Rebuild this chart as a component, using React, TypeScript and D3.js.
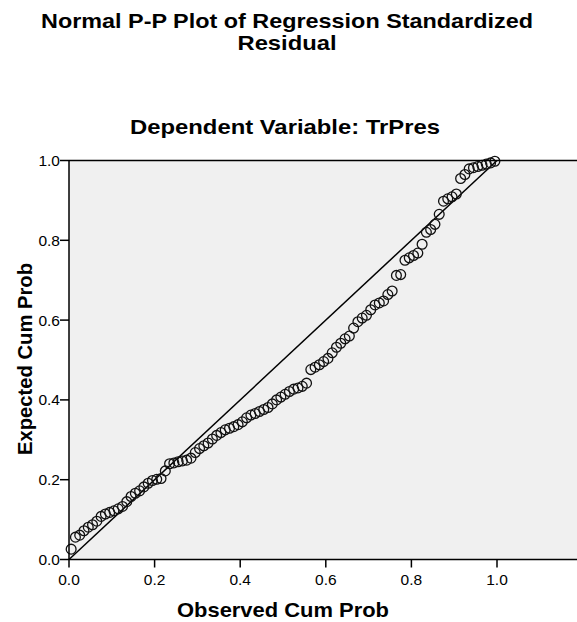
import React from "react";
import * as d3 from "d3";

const titleLines = ["Normal P-P Plot of Regression Standardized", "Residual"];
const titleWidths = [492, 99];
const subtitle = "Dependent Variable: TrPres";
const xLabel = "Observed Cum Prob";
const yLabel = "Expected Cum Prob";
const xTicks = [0, 0.2, 0.4, 0.6, 0.8, 1.0];
const yTicks = [0, 0.2, 0.4, 0.6, 0.8, 1.0];

// Expected cumulative probability for each observation, ordered by rank
const expectedCum = [
  0.026, 0.056, 0.061, 0.072, 0.081, 0.087, 0.096, 0.108, 0.114, 0.118,
  0.122, 0.127, 0.133, 0.145, 0.158, 0.166, 0.172, 0.182, 0.191, 0.198,
  0.201, 0.203, 0.222, 0.240, 0.242, 0.245, 0.247, 0.249, 0.254, 0.268,
  0.278, 0.285, 0.292, 0.302, 0.311, 0.318, 0.325, 0.329, 0.333, 0.338,
  0.345, 0.355, 0.362, 0.366, 0.371, 0.376, 0.381, 0.390, 0.400, 0.407,
  0.414, 0.421, 0.427, 0.430, 0.434, 0.442, 0.476, 0.482, 0.488, 0.496,
  0.504, 0.518, 0.532, 0.542, 0.553, 0.560, 0.580, 0.596, 0.605, 0.612,
  0.626, 0.638, 0.643, 0.648, 0.664, 0.673, 0.712, 0.714, 0.750, 0.756,
  0.762, 0.768, 0.790, 0.820, 0.827, 0.840, 0.865, 0.898, 0.904, 0.909,
  0.916, 0.955, 0.965, 0.979, 0.982, 0.985, 0.988, 0.991, 0.994, 0.998,
];
const n = expectedCum.length;
const observedCum = expectedCum.map((_, i) => (i + 0.5) / n);

const W = 577;
const H = 622;
const left = 69;
const top = 160.5;
const bottom = 559.5;
const unitX = 428;
const font = "'Liberation Sans', Arial, Helvetica, sans-serif";

export default function App() {
  const x = d3.scaleLinear().domain([0, 1]).range([left, left + unitX]);
  const y = d3.scaleLinear().domain([0, 1]).range([bottom, top]);
  const xMax = x.invert(W + 5);

  return (
    <svg
      width={W}
      height={H}
      style={{ position: "absolute", left: 0, top: 0, background: "#fff" }}
      fontFamily={font}
    >
      <rect x={left} y={top} width={x(xMax) - left} height={bottom - top} fill="#f0f0f0" />
      {titleLines.map((t, i) => (
        <text
          key={i}
          x={287}
          y={28 + i * 22}
          textAnchor="middle"
          fontSize={21}
          fontWeight="bold"
          fill="#000"
          textLength={titleWidths[i]}
          lengthAdjust="spacingAndGlyphs"
        >
          {t}
        </text>
      ))}
      <text
        x={285}
        y={134}
        textAnchor="middle"
        fontSize={21}
        fontWeight="bold"
        fill="#000"
        textLength={310}
        lengthAdjust="spacingAndGlyphs"
      >
        {subtitle}
      </text>
      {/* diagonal reference line */}
      <line x1={x(0)} y1={y(0)} x2={x(1)} y2={y(1)} stroke="#000" strokeWidth={1.5} />
      {/* points */}
      {expectedCum.map((v, i) => (
        <circle
          key={i}
          cx={x(observedCum[i])}
          cy={y(v)}
          r={4.9}
          fill="none"
          stroke="#111"
          strokeWidth={1.3}
        />
      ))}
      {/* frame */}
      <line x1={left} y1={top} x2={W + 5} y2={top} stroke="#000" strokeWidth={1.5} />
      <line x1={left} y1={bottom} x2={W + 5} y2={bottom} stroke="#000" strokeWidth={1.5} />
      <line x1={left} y1={top} x2={left} y2={bottom} stroke="#000" strokeWidth={1.5} />
      {/* x ticks */}
      {xTicks.map((t) => (
        <g key={"x" + t}>
          <line x1={x(t)} y1={bottom} x2={x(t)} y2={bottom + 8} stroke="#000" strokeWidth={1.5} />
          <text x={x(t)} y={585} textAnchor="middle" fontSize={15.5} fill="#000">
            {d3.format(".1f")(t)}
          </text>
        </g>
      ))}
      {/* y ticks */}
      {yTicks.map((t) => (
        <g key={"y" + t}>
          <line x1={left - 9} y1={y(t)} x2={left} y2={y(t)} stroke="#000" strokeWidth={1.5} />
          <text x={left - 9} y={y(t) + 5.5} textAnchor="end" fontSize={15.5} fill="#000">
            {d3.format(".1f")(t)}
          </text>
        </g>
      ))}
      <text
        x={283}
        y={617}
        textAnchor="middle"
        fontSize={21}
        fontWeight="bold"
        fill="#000"
        textLength={212}
        lengthAdjust="spacingAndGlyphs"
      >
        {xLabel}
      </text>
      <text
        transform={`translate(32,359) rotate(-90)`}
        textAnchor="middle"
        fontSize={21}
        fontWeight="bold"
        fill="#000"
        textLength={192}
        lengthAdjust="spacingAndGlyphs"
      >
        {yLabel}
      </text>
    </svg>
  );
}
